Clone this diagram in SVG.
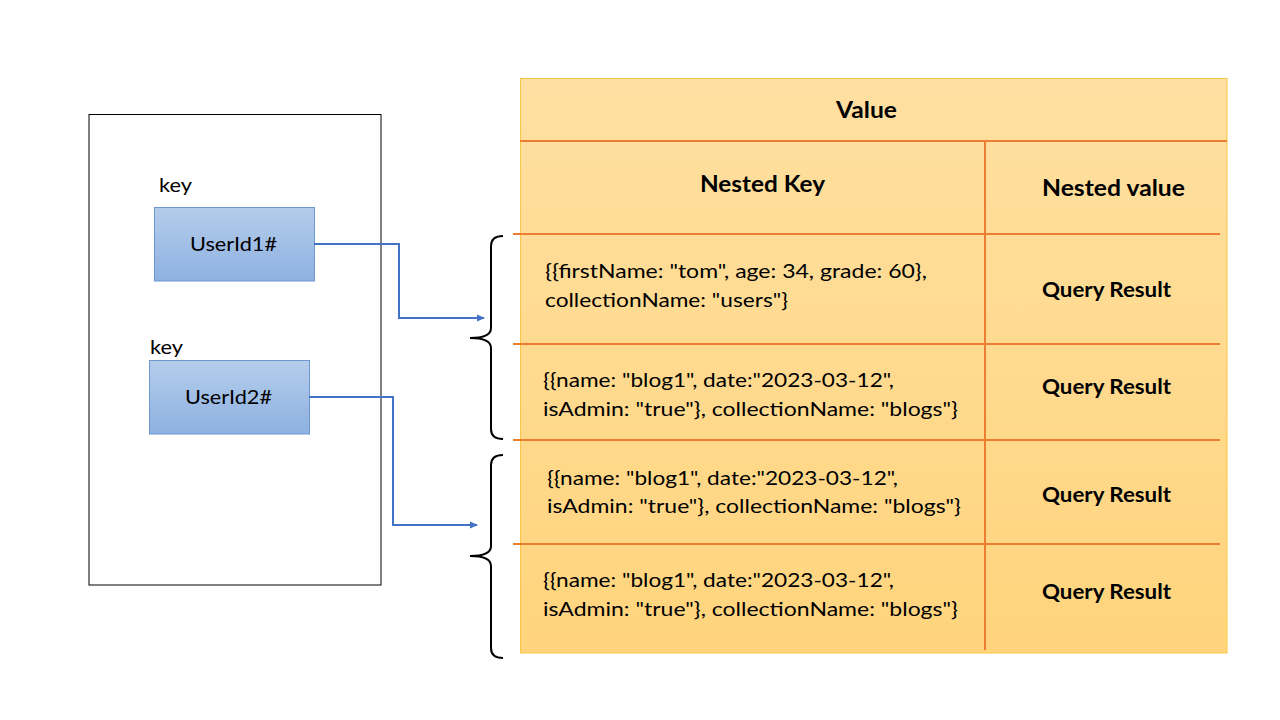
<svg xmlns="http://www.w3.org/2000/svg" width="1280" height="720" viewBox="0 0 1280 720">
<defs>
<linearGradient id="gBlue" x1="0" y1="0" x2="0" y2="1"><stop offset="0" stop-color="#b5cdeb"/><stop offset="1" stop-color="#8db1e1"/></linearGradient>
<linearGradient id="gOrange" x1="0" y1="0" x2="0" y2="1"><stop offset="0" stop-color="#ffe0a2"/><stop offset="1" stop-color="#ffd47c"/></linearGradient>
<marker id="arr" markerWidth="8" markerHeight="8" refX="7" refY="4" orient="auto" markerUnits="userSpaceOnUse"><path d="M0,0.5 L8,4 L0,7.5 Z" fill="#4472c4"/></marker>
<style>
.t{font-family:"Lato","Liberation Sans",sans-serif;fill:#000}
.b{font-weight:bold}
.kbox{fill:url(#gBlue);stroke:#6f97d0;stroke-width:1}
.row{stroke:#ed7d31;stroke-width:2;fill:none}
.conn{stroke:#4472c4;stroke-width:2;fill:none}
.brace{stroke:#000;stroke-width:2;fill:none}
</style>
</defs>
<rect width="1280" height="720" fill="#fff"/>
<g id="keystore">
<rect x="89" y="114.5" width="292" height="470.5" fill="#fff" stroke="#000" stroke-width="1"/>
</g>
<g id="key1">
<text class="t" x="159" y="192" font-size="20" textLength="33" lengthAdjust="spacingAndGlyphs">key</text>
<rect class="kbox" x="154.5" y="207.5" width="160" height="73.5"/>
<text class="t" x="190" y="251" font-size="20" textLength="87" lengthAdjust="spacingAndGlyphs">UserId1#</text>
</g>
<g id="key2">
<text class="t" x="150" y="354" font-size="20" textLength="33" lengthAdjust="spacingAndGlyphs">key</text>
<rect class="kbox" x="149.5" y="360.5" width="160" height="73.5"/>
<text class="t" x="185" y="404" font-size="20" textLength="87" lengthAdjust="spacingAndGlyphs">UserId2#</text>
</g>
<g id="value-table">
<rect x="520.5" y="78.5" width="706.5" height="574.5" fill="url(#gOrange)" stroke="#f9c743" stroke-width="1"/>
<line class="row" x1="520" y1="141" x2="1227" y2="141"/>
<line class="row" x1="985" y1="141" x2="985" y2="650"/>
<line class="row" x1="513" y1="234" x2="1220" y2="234"/>
<line class="row" x1="513" y1="344" x2="1220" y2="344"/>
<line class="row" x1="513" y1="440" x2="1220" y2="440"/>
<line class="row" x1="513" y1="544" x2="1220" y2="544"/>
<text class="t b" x="836" y="118" font-size="22" textLength="61" lengthAdjust="spacingAndGlyphs">Value</text>
<text class="t b" x="700" y="192" font-size="22" textLength="125" lengthAdjust="spacingAndGlyphs">Nested Key</text>
<text class="t b" x="1042" y="196" font-size="22" textLength="143" lengthAdjust="spacingAndGlyphs">Nested value</text>
<text class="t b" x="1042" y="297" font-size="20" textLength="129" lengthAdjust="spacingAndGlyphs">Query Result</text>
<text class="t b" x="1042" y="394" font-size="20" textLength="129" lengthAdjust="spacingAndGlyphs">Query Result</text>
<text class="t b" x="1042" y="502" font-size="20" textLength="129" lengthAdjust="spacingAndGlyphs">Query Result</text>
<text class="t b" x="1042" y="599" font-size="20" textLength="129" lengthAdjust="spacingAndGlyphs">Query Result</text>
<text class="t" font-size="20" x="545" y="278" textLength="382" lengthAdjust="spacingAndGlyphs">{{firstName: "tom", age: 34, grade: 60},</text>
<text class="t" font-size="20" x="545" y="307" textLength="243" lengthAdjust="spacingAndGlyphs">collectionName: "users"}</text>
<text class="t" font-size="20" x="543" y="387" textLength="351" lengthAdjust="spacingAndGlyphs">{{name: "blog1", date:"2023-03-12",</text>
<text class="t" font-size="20" x="543" y="416" textLength="415" lengthAdjust="spacingAndGlyphs">isAdmin: "true"}, collectionName: "blogs"}</text>
<text class="t" font-size="20" x="547" y="485" textLength="351" lengthAdjust="spacingAndGlyphs">{{name: "blog1", date:"2023-03-12",</text>
<text class="t" font-size="20" x="547" y="513" textLength="414" lengthAdjust="spacingAndGlyphs">isAdmin: "true"}, collectionName: "blogs"}</text>
<text class="t" font-size="20" x="543" y="587" textLength="351" lengthAdjust="spacingAndGlyphs">{{name: "blog1", date:"2023-03-12",</text>
<text class="t" font-size="20" x="543" y="616" textLength="415" lengthAdjust="spacingAndGlyphs">isAdmin: "true"}, collectionName: "blogs"}</text>
</g>
<g id="braces">
<path class="brace" d="M503,236 Q491,236 491,246 V328 Q491,338 470,338 Q491,338 491,348 V429 Q491,439 503,439"/>
<path class="brace" d="M503,455 Q491,455 491,465 V546 Q491,556 470,556 Q491,556 491,566 V648 Q491,658 503,658"/>
</g>
<g id="connectors">
<path class="conn" d="M314,244 H399 V318 H484" marker-end="url(#arr)"/>
<path class="conn" d="M309,397 H393 V525 H477" marker-end="url(#arr)"/>
</g>
</svg>
